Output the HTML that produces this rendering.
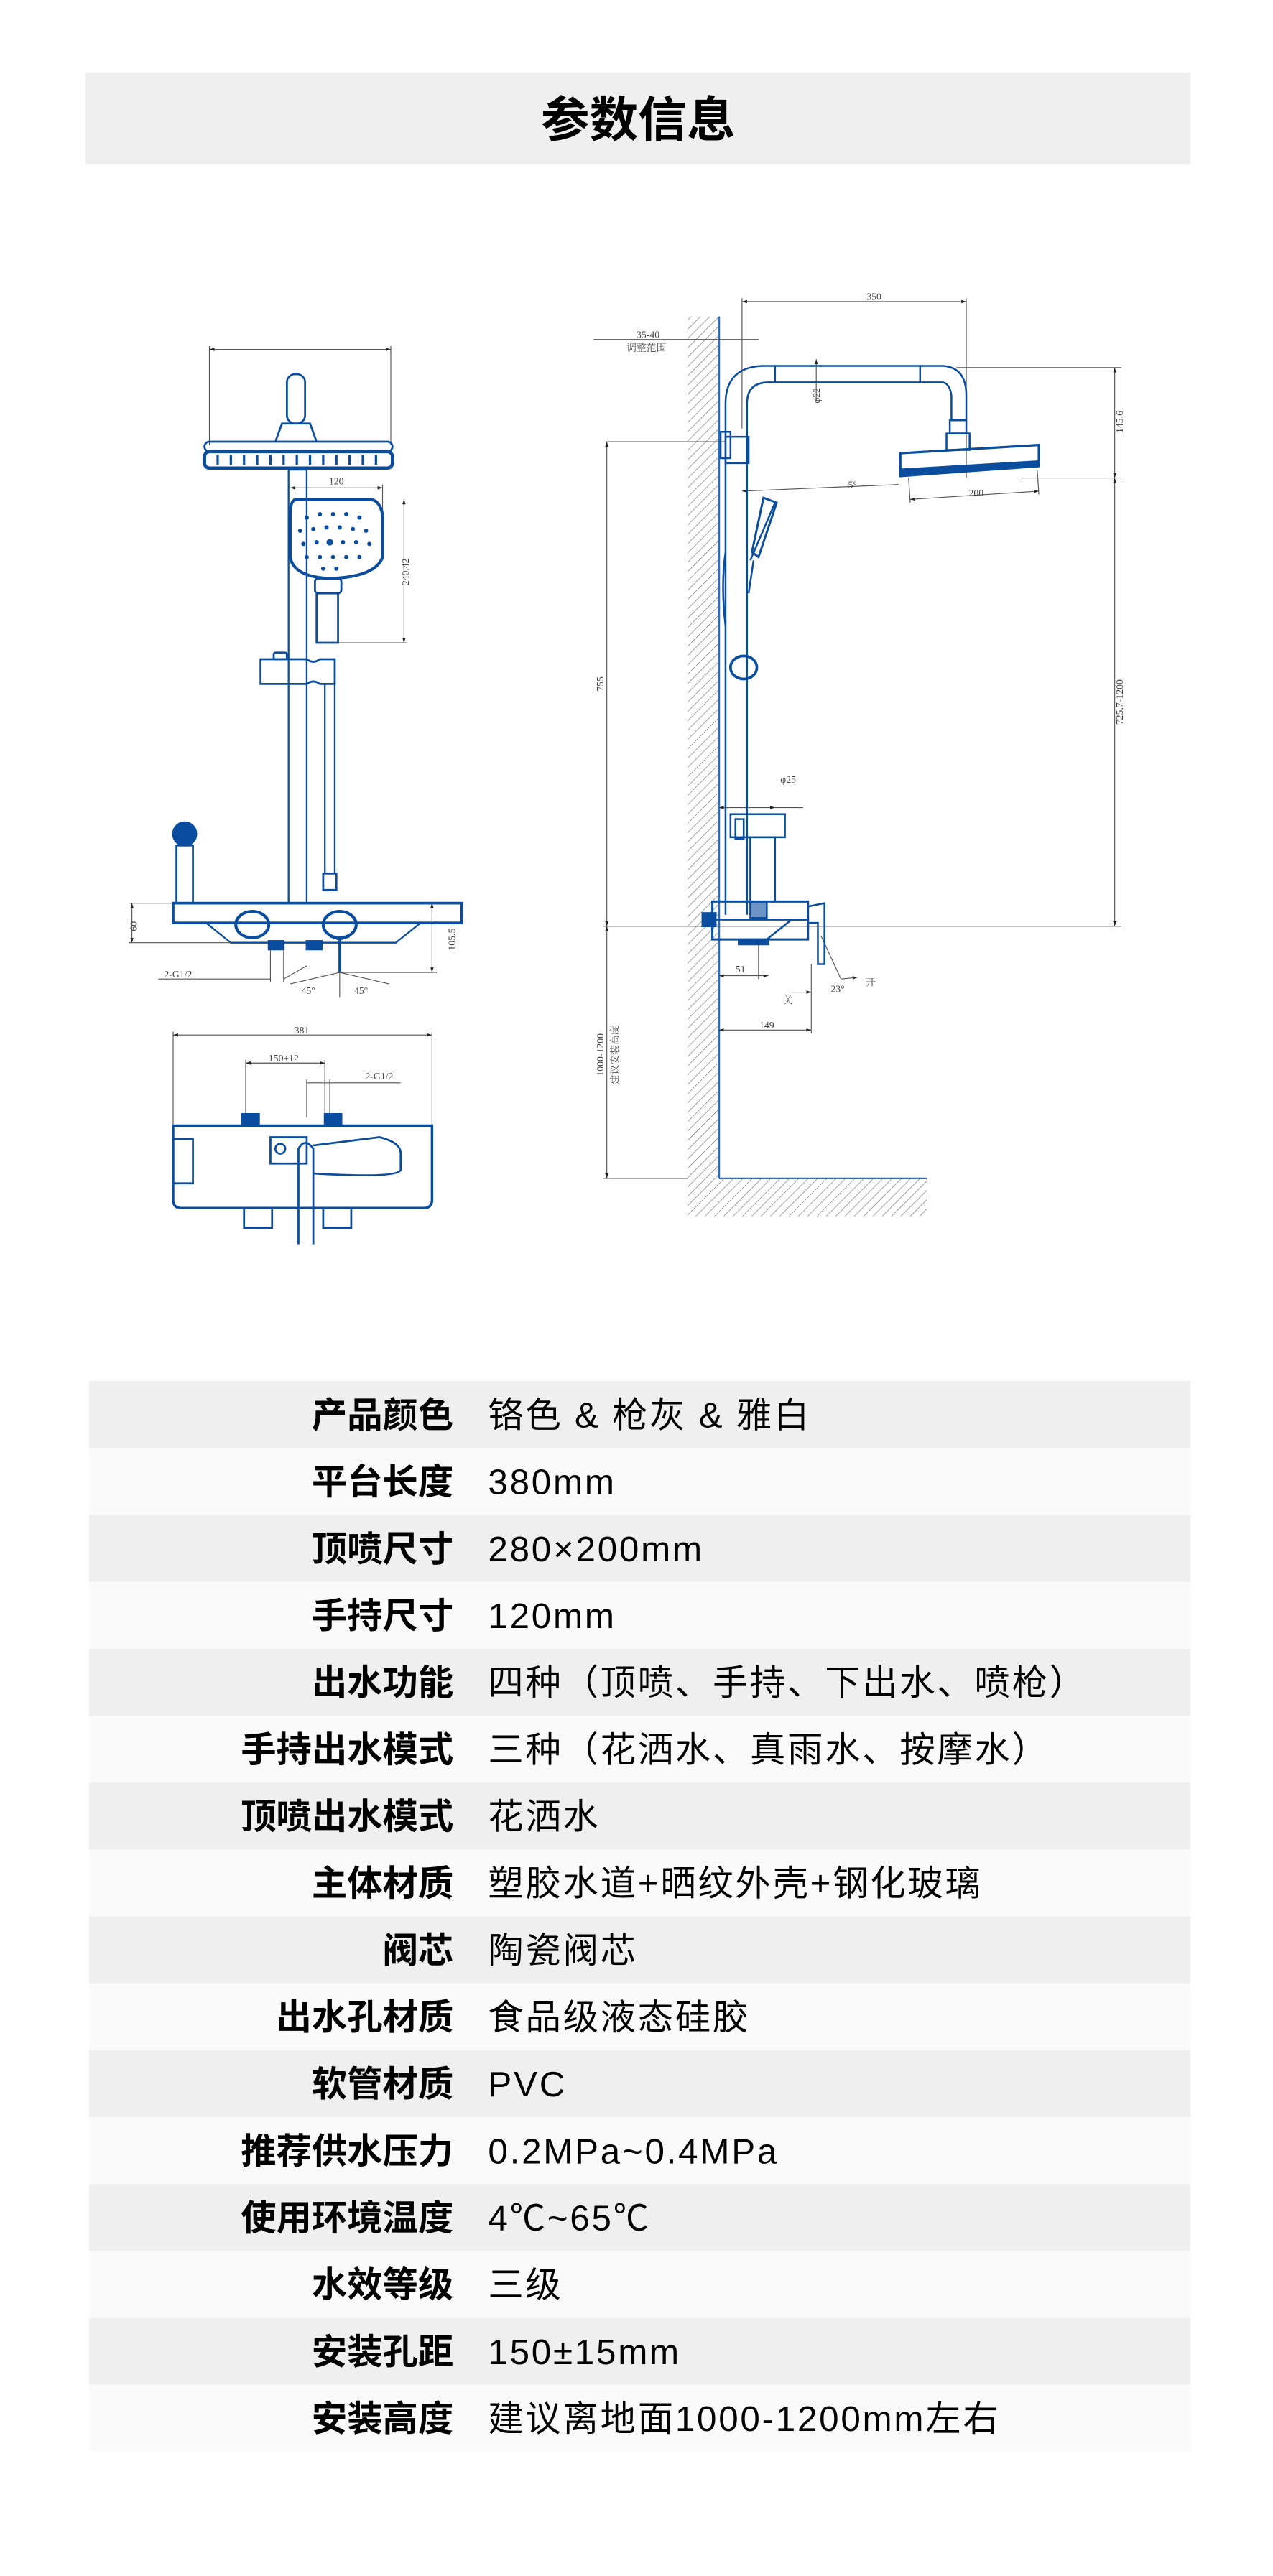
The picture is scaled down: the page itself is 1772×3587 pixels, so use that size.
<!DOCTYPE html>
<html><head><meta charset="utf-8"><style>
html,body{margin:0;padding:0;background:#fff}
svg{display:block}
.t{font-family:"Liberation Sans","Noto Sans CJK SC",sans-serif}
.d{font-family:"Liberation Serif","Noto Serif CJK SC",serif;fill:#444;font-size:6px}
</style></head><body>
<svg width="1772" height="3587" viewBox="0 0 772 1563" preserveAspectRatio="none" xmlns="http://www.w3.org/2000/svg">
<defs>
<pattern id="h" width="4" height="4" patternUnits="userSpaceOnUse" patternTransform="rotate(45)">
<line x1="0" y1="0" x2="0" y2="4" stroke="#777" stroke-width="0.6"/></pattern>
<marker id="a" markerWidth="6" markerHeight="4" refX="6" refY="2" orient="auto-start-reverse"><path d="M0,0 L6,2 L0,4z" fill="#222"/></marker>
</defs>
<rect width="772" height="1563" fill="#fff"/>
<rect x="52" y="44" width="670" height="56" fill="#efefef"/>
<text x="387" y="83" text-anchor="middle" class="t" font-size="29.5" font-weight="bold">参数信息</text>

<!-- LEFT FRONT VIEW -->
<g stroke="#0a4d9e" fill="none" stroke-width="1.2">
<line x1="127" y1="212" x2="237" y2="212" stroke="#555" stroke-width="0.5" marker-start="url(#a)" marker-end="url(#a)"/>
<line x1="127" y1="210" x2="127" y2="270" stroke="#555" stroke-width="0.5"/>
<line x1="237" y1="210" x2="237" y2="270" stroke="#555" stroke-width="0.5"/>
<rect x="174" y="227" width="11" height="30" rx="5"/>
<path d="M167 268 L171 257 L188 257 L192 268"/>
<rect x="124" y="268" width="114" height="6" rx="3"/>
<rect x="124" y="274" width="114" height="10" rx="3" stroke-width="2"/>
<g stroke-width="1.4"><path d="M132 276v6M140 276v6M148 276v6M156 276v6M164 276v6M172 276v6M180 276v6M188 276v6M196 276v6M204 276v6M212 276v6M220 276v6M228 276v6"/></g>
<rect x="175" y="285" width="11" height="263" stroke-width="1"/>
<line x1="176" y1="296" x2="232" y2="296" stroke="#555" stroke-width="0.5" marker-start="url(#a)" marker-end="url(#a)"/>
<line x1="232" y1="294" x2="232" y2="330" stroke="#555" stroke-width="0.5"/>
<path d="M180 303 Q176 303 176 312 L176 338 Q178 350 200 351 Q228 350 232 338 L232 312 Q230 303 224 303 Z" stroke-width="1.8"/>
<g fill="#0a4d9e" stroke="none">
<circle cx="186" cy="314" r="1.3"/><circle cx="194" cy="312" r="1.3"/><circle cx="202" cy="312" r="1.3"/><circle cx="210" cy="312" r="1.3"/><circle cx="218" cy="314" r="1.3"/>
<circle cx="182" cy="322" r="1.3"/><circle cx="190" cy="321" r="1.3"/><circle cx="198" cy="320" r="1.3"/><circle cx="206" cy="320" r="1.3"/><circle cx="214" cy="321" r="1.3"/><circle cx="222" cy="322" r="1.3"/>
<circle cx="184" cy="330" r="1.3"/><circle cx="192" cy="329" r="1.3"/><circle cx="200" cy="329" r="2"/><circle cx="208" cy="329" r="1.3"/><circle cx="216" cy="329" r="1.3"/><circle cx="224" cy="330" r="1.3"/>
<circle cx="186" cy="338" r="1.3"/><circle cx="194" cy="338" r="1.3"/><circle cx="202" cy="338" r="1.3"/><circle cx="210" cy="338" r="1.3"/><circle cx="218" cy="338" r="1.3"/>
<circle cx="196" cy="345" r="1.3"/><circle cx="204" cy="345" r="1.3"/>
</g>
<rect x="191" y="351" width="16" height="9" rx="2"/>
<rect x="192" y="360" width="13" height="30"/>
<line x1="245" y1="303" x2="245" y2="390" stroke="#555" stroke-width="0.5" marker-start="url(#a)" marker-end="url(#a)"/>
<line x1="205" y1="390" x2="247" y2="390" stroke="#555" stroke-width="0.5"/>
<path d="M158 400 L186 400 Q190 403 194 400 L203 400 L203 415 L194 415 Q190 412 186 415 L158 415Z"/>
<rect x="166" y="396" width="8" height="4" rx="1"/>
<rect x="197" y="415" width="6" height="115" stroke-width="1"/>
<rect x="196" y="530" width="8" height="10"/>
<circle cx="112" cy="506" r="7" fill="#0a4d9e"/>
<rect x="107" y="513" width="10" height="35"/>
<rect x="105" y="548" width="175" height="12" stroke-width="1.6"/>
<path d="M125 560 L140 572 L180 572 L196 572 L240 572 L255 560" stroke-width="1"/>
<ellipse cx="153" cy="561" rx="10" ry="8" stroke-width="1.8"/>
<ellipse cx="206" cy="561" rx="10" ry="8" stroke-width="1.8"/>
<path d="M200 568 L206 570 L212 568 M206 570 L206 590" stroke-width="1.5"/>
<rect x="163" y="571" width="9" height="5" fill="#0a4d9e"/>
<rect x="186" y="571" width="9" height="5" fill="#0a4d9e"/>
</g>
<g stroke="#555" stroke-width="0.5" fill="none">
<line x1="80" y1="548" x2="80" y2="572" marker-start="url(#a)" marker-end="url(#a)"/>
<line x1="78" y1="548" x2="105" y2="548"/><line x1="78" y1="572" x2="140" y2="572"/>
<line x1="262" y1="548" x2="262" y2="590" marker-start="url(#a)" marker-end="url(#a)"/>
<line x1="280" y1="548" x2="265" y2="548"/><line x1="206" y1="590" x2="265" y2="590"/>
<line x1="96" y1="594" x2="164" y2="594"/><line x1="164" y1="576" x2="164" y2="596"/><line x1="172" y1="576" x2="172" y2="596"/>
<line x1="186" y1="586" x2="172" y2="594"/>
<line x1="206" y1="590" x2="176" y2="597"/><line x1="206" y1="590" x2="236" y2="597"/>
<line x1="206" y1="590" x2="206" y2="605"/>
</g>
<text x="83" y="562" class="d" transform="rotate(-90 83 562)" text-anchor="middle">60</text>
<text x="276" y="570" class="d" transform="rotate(-90 276 570)" text-anchor="middle">105.5</text>
<text x="248" y="347" class="d" transform="rotate(-90 248 347)" text-anchor="middle">240.42</text>
<text x="204" y="294" class="d" text-anchor="middle">120</text>
<text x="108" y="593" class="d" text-anchor="middle">2-G1/2</text>
<text x="187" y="603" class="d" text-anchor="middle">45°</text>
<text x="219" y="603" class="d" text-anchor="middle">45°</text>

<!-- BOTTOM VIEW -->
<g stroke="#555" stroke-width="0.5" fill="none">
<line x1="105" y1="628" x2="262" y2="628" marker-start="url(#a)" marker-end="url(#a)"/>
<line x1="105" y1="626" x2="105" y2="683"/><line x1="262" y1="626" x2="262" y2="683"/>
<line x1="149" y1="645" x2="197" y2="645" marker-start="url(#a)" marker-end="url(#a)"/>
<line x1="149" y1="643" x2="149" y2="678"/><line x1="197" y1="643" x2="197" y2="678"/>
<line x1="186" y1="657" x2="243" y2="657"/><line x1="186" y1="655" x2="186" y2="678"/><line x1="200" y1="655" x2="200" y2="678"/>
</g>
<text x="183" y="627" class="d" text-anchor="middle">381</text>
<text x="172" y="644" class="d" text-anchor="middle">150±12</text>
<text x="230" y="655" class="d" text-anchor="middle">2-G1/2</text>
<g stroke="#0a4d9e" fill="none" stroke-width="1.2">
<path d="M105 683 L262 683 L262 728 Q262 733 257 733 L110 733 Q105 733 105 728Z" stroke-width="1.5"/>
<rect x="147" y="676" width="10" height="7" fill="#0a4d9e"/>
<rect x="197" y="676" width="10" height="7" fill="#0a4d9e"/>
<rect x="105" y="691" width="12" height="27"/>
<rect x="164" y="690" width="22" height="16"/>
<circle cx="170" cy="697" r="3"/>
<path d="M181 755 L181 697 Q185 690 190 697 L190 755"/>
<path d="M190 695 L230 690 Q243 693 243 700 L243 710 Q240 715 190 712"/>
<rect x="148" y="733" width="17" height="12"/>
<rect x="196" y="733" width="17" height="12"/>
</g>

<!-- RIGHT SIDE VIEW -->
<rect x="417" y="192" width="19" height="523" fill="url(#h)"/>
<rect x="417" y="715" width="145" height="23" fill="url(#h)"/>
<line x1="436" y1="192" x2="436" y2="715" stroke="#2b6cc4" stroke-width="1.3"/>
<line x1="436" y1="715" x2="562" y2="715" stroke="#2b6cc4" stroke-width="1"/>
<g stroke="#555" stroke-width="0.5" fill="none">
<line x1="450" y1="183" x2="586" y2="183" marker-start="url(#a)" marker-end="url(#a)"/>
<line x1="450" y1="181" x2="450" y2="260"/><line x1="586" y1="181" x2="586" y2="290"/>
<line x1="360" y1="206" x2="460" y2="206"/>
<line x1="580" y1="223" x2="680" y2="223"/>
<line x1="676" y1="223" x2="676" y2="290" marker-start="url(#a)" marker-end="url(#a)"/>
<line x1="620" y1="290" x2="680" y2="290"/>
<line x1="676" y1="290" x2="676" y2="562" marker-start="url(#a)" marker-end="url(#a)"/>
<line x1="368" y1="268" x2="440" y2="268"/>
<line x1="368" y1="268" x2="368" y2="562" marker-start="url(#a)" marker-end="url(#a)"/>
<line x1="368" y1="562" x2="368" y2="715" marker-start="url(#a)" marker-end="url(#a)"/>
<line x1="366" y1="715" x2="417" y2="715"/>
<line x1="366" y1="562" x2="680" y2="562"/>
<line x1="450" y1="298" x2="545" y2="294" marker-start="url(#a)"/>
<line x1="552" y1="303" x2="630" y2="298" marker-start="url(#a)" marker-end="url(#a)"/>
<line x1="551" y1="290" x2="552" y2="305"/><line x1="629" y1="285" x2="630" y2="300"/>
<line x1="495" y1="218" x2="495" y2="243" marker-start="url(#a)"/>
<line x1="436" y1="490" x2="470" y2="490" marker-start="url(#a)" marker-end="url(#a)"/>
<line x1="470" y1="490" x2="487" y2="490"/>
<line x1="436" y1="592" x2="466" y2="592" marker-start="url(#a)" marker-end="url(#a)"/>
<line x1="460" y1="570" x2="460" y2="594"/>
<line x1="436" y1="625" x2="492" y2="625" marker-start="url(#a)" marker-end="url(#a)"/>
<line x1="492" y1="585" x2="492" y2="627"/>
<line x1="480" y1="602" x2="492" y2="602" marker-end="url(#a)"/>
<line x1="498" y1="568" x2="510" y2="594"/><line x1="510" y1="594" x2="520" y2="593" marker-end="url(#a)"/>
</g>
<g stroke="#0a4d9e" fill="none" stroke-width="1.1">
<path d="M440 555 L440 245 Q440 223 462 222 L572 222 Q586 223 586 240 L586 255"/>
<path d="M453 555 L453 245 Q453 232 466 232 L572 232 Q576 233 577 240 L577 255"/>
<line x1="470" y1="222" x2="470" y2="232"/><line x1="558" y1="222" x2="558" y2="232"/>
<rect x="576" y="255" width="10" height="8"/>
<rect x="574" y="263" width="14" height="10"/>
<path d="M546 275 L630 270 L630 280 L546 285Z" stroke-width="1.4"/>
<path d="M546 285 L630 280 L630 283 L546 289Z" fill="#0a4d9e"/>
<rect x="437" y="262" width="6" height="16"/>
<rect x="440" y="265" width="14" height="16"/>
<path d="M456 335 L463 302 L471 305 L460 338Z" stroke-width="1.3"/>
<path d="M455 340 L470 305"/>
<path d="M454 360 L457 340 M440 380 Q437 355 440 335"/>
<ellipse cx="451" cy="405" rx="8" ry="7" stroke-width="1.6"/>
<rect x="443" y="494" width="33" height="14"/>
<rect x="446" y="497" width="5" height="12"/>
<rect x="455" y="508" width="15" height="39"/>
<rect x="432" y="547" width="58" height="23" stroke-width="1.3"/>
<line x1="432" y1="558" x2="490" y2="558"/>
<rect x="426" y="554" width="8" height="8" fill="#0a4d9e"/>
<rect x="455" y="547" width="10" height="10" fill="#0a4d9e" fill-opacity="0.6"/>
<rect x="448" y="570" width="18" height="3" fill="#0a4d9e"/>
<path d="M465 570 L480 558 L490 558"/>
<path d="M490 550 L500 548 L500 585 L496 585 L496 560 L490 560"/>
</g>
<text x="530" y="182" class="d" text-anchor="middle">350</text>
<text x="393" y="205" class="d" text-anchor="middle">35-40</text>
<text x="380" y="213" class="d" font-size="5">调整范围</text>
<text x="497" y="240" class="d" transform="rotate(-90 497 240)" text-anchor="middle">φ22</text>
<text x="681" y="256" class="d" transform="rotate(-90 681 256)" text-anchor="middle">145.6</text>
<text x="681" y="426" class="d" transform="rotate(-90 681 426)" text-anchor="middle">725.7-1200</text>
<text x="366" y="415" class="d" transform="rotate(-90 366 415)" text-anchor="middle">755</text>
<text x="366" y="640" class="d" transform="rotate(-90 366 640)" text-anchor="middle">1000-1200</text>
<text x="375" y="640" class="d" font-size="5" transform="rotate(-90 375 640)" text-anchor="middle">建议安装高度</text>
<text x="517" y="296" class="d" text-anchor="middle">5°</text>
<text x="592" y="301" class="d" text-anchor="middle">200</text>
<text x="478" y="475" class="d" text-anchor="middle">φ25</text>
<text x="449" y="590" class="d" text-anchor="middle">51</text>
<text x="465" y="624" class="d" text-anchor="middle">149</text>
<text x="478" y="609" class="d" text-anchor="middle">关</text>
<text x="508" y="602" class="d" text-anchor="middle">23°</text>
<text x="525" y="598" class="d">开</text>

<!-- TABLE -->
<g class="t" font-size="21.5">
<rect x="54" y="838" width="668" height="40.6" fill="#efefef"/>
<rect x="54" y="878.6" width="668" height="40.6" fill="#fafafa"/>
<rect x="54" y="919.2" width="668" height="40.6" fill="#efefef"/>
<rect x="54" y="959.8" width="668" height="40.6" fill="#fafafa"/>
<rect x="54" y="1000.4" width="668" height="40.6" fill="#efefef"/>
<rect x="54" y="1041" width="668" height="40.6" fill="#fafafa"/>
<rect x="54" y="1081.6" width="668" height="40.6" fill="#efefef"/>
<rect x="54" y="1122.2" width="668" height="40.6" fill="#fafafa"/>
<rect x="54" y="1162.8" width="668" height="40.6" fill="#efefef"/>
<rect x="54" y="1203.4" width="668" height="40.6" fill="#fafafa"/>
<rect x="54" y="1244" width="668" height="40.6" fill="#efefef"/>
<rect x="54" y="1284.6" width="668" height="40.6" fill="#fafafa"/>
<rect x="54" y="1325.2" width="668" height="40.6" fill="#efefef"/>
<rect x="54" y="1365.8" width="668" height="40.6" fill="#fafafa"/>
<rect x="54" y="1406.4" width="668" height="40.6" fill="#efefef"/>
<rect x="54" y="1447" width="668" height="40.6" fill="#fafafa"/>
<g text-anchor="end" font-weight="bold">
<text x="275" y="866">产品颜色</text><text x="275" y="906.6">平台长度</text><text x="275" y="947.2">顶喷尺寸</text><text x="275" y="987.8">手持尺寸</text>
<text x="275" y="1028.4">出水功能</text><text x="275" y="1069">手持出水模式</text><text x="275" y="1109.6">顶喷出水模式</text><text x="275" y="1150.2">主体材质</text>
<text x="275" y="1190.8">阀芯</text><text x="275" y="1231.4">出水孔材质</text><text x="275" y="1272">软管材质</text><text x="275" y="1312.6">推荐供水压力</text>
<text x="275" y="1353.2">使用环境温度</text><text x="275" y="1393.8">水效等级</text><text x="275" y="1434.4">安装孔距</text><text x="275" y="1475">安装高度</text>
</g>
<g letter-spacing="1.2">
<text x="296" y="866">铬色 &amp; 枪灰 &amp; 雅白</text><text x="296" y="906.6">380mm</text><text x="296" y="947.2">280×200mm</text><text x="296" y="987.8">120mm</text>
<text x="296" y="1028.4">四种（顶喷、手持、下出水、喷枪）</text><text x="296" y="1069">三种（花洒水、真雨水、按摩水）</text><text x="296" y="1109.6">花洒水</text><text x="296" y="1150.2">塑胶水道+晒纹外壳+钢化玻璃</text>
<text x="296" y="1190.8">陶瓷阀芯</text><text x="296" y="1231.4">食品级液态硅胶</text><text x="296" y="1272">PVC</text><text x="296" y="1312.6">0.2MPa~0.4MPa</text>
<text x="296" y="1353.2">4℃~65℃</text><text x="296" y="1393.8">三级</text><text x="296" y="1434.4">150±15mm</text><text x="296" y="1475">建议离地面1000-1200mm左右</text>
</g>
</g>
</svg>
</body></html>
